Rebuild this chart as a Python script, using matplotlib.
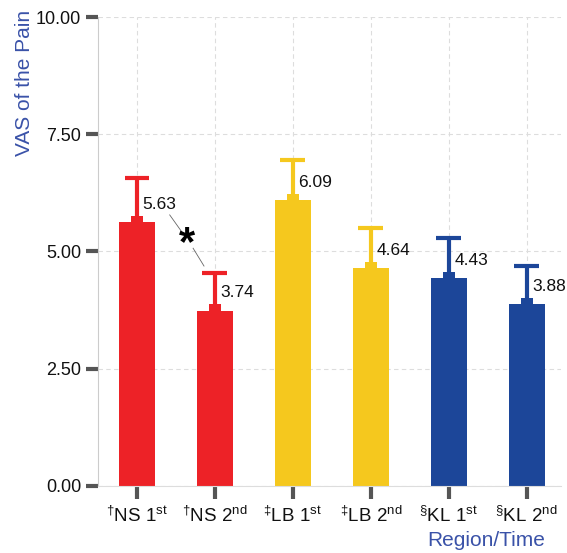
import numpy as np
import matplotlib
matplotlib.use("Agg")
import matplotlib.pyplot as plt

plt.rcParams['font.family'] = ['Liberation Sans', 'DejaVu Sans']
plt.rcParams['mathtext.fontset'] = 'custom'
plt.rcParams['mathtext.rm'] = 'Liberation Sans'
plt.rcParams['mathtext.it'] = 'Liberation Sans'

labels = [r"$^{\dagger}$NS 1$^{\rm st}$", r"$^{\dagger}$NS 2$^{\rm nd}$",
          r"$^{\ddagger}$LB 1$^{\rm st}$", r"$^{\ddagger}$LB 2$^{\rm nd}$",
          r"$^{\S}$KL 1$^{\rm st}$", r"$^{\S}$KL 2$^{\rm nd}$"]
means = [5.63, 3.74, 6.09, 4.64, 4.43, 3.88]
upper_err = [0.94, 0.80, 0.86, 0.86, 0.86, 0.81]
colours = ["#ED2227", "#ED2227", "#F5C81E", "#F5C81E", "#1C4699", "#1C4699"]

TXT_BLUE = "#3A52A8"

fig = plt.figure(figsize=(5.67, 5.53), dpi=100)
ax = fig.add_axes([98/567, 1 - 486/553, 463/567, 469/553])

x = np.arange(len(means))
tops = np.array(means) + np.array(upper_err)

ax.set_axisbelow(True)
ax.grid(True, color="#dddddd", linestyle=(0, (4, 3)), linewidth=0.8)

ax.bar(x, means, width=0.46, color=colours, zorder=2)
# little notch on top of each bar
ax.bar(x, [0.13] * len(x), bottom=means, width=0.15, color=colours, zorder=2)
# upper error bars only
ax.vlines(x, means, tops, colors=colours, linewidth=3, zorder=3)
ax.hlines(tops, x - 0.16, x + 0.16, colors=colours, linewidth=3, zorder=3)
for i in range(len(x)):
    ax.text(x[i] + 0.07, means[i] + 0.38, f"{means[i]:.2f}", fontsize=12.5,
            ha="left", va="center", color="#111111", zorder=4)

# significance mark between NS 1st and NS 2nd
ax.plot([0.42, 0.57], [5.78, 5.43], color="#666666", lw=0.6, zorder=4)
ax.plot([0.72, 0.86], [5.07, 4.69], color="#666666", lw=0.6, zorder=4)
ax.text(0.645, 5.15, "*", fontsize=30, fontweight="bold", ha="center", va="center", zorder=4)

ax.set_xlim(-0.5, 5.44)
ax.set_ylim(0, 10)
ax.set_yticks([0, 2.5, 5, 7.5, 10])
ax.set_yticklabels(["0.00", "2.50", "5.00", "7.50", "10.00"])
ax.set_xticks(x)
ax.set_xticklabels(labels)
ax.tick_params(axis="both", length=9, width=3, color="#555555", labelsize=13,
               labelcolor="#111111", pad=3)
ax.tick_params(axis="x", labelsize=13.5, pad=5)

for s in ["top", "right"]:
    ax.spines[s].set_visible(False)
ax.spines["left"].set_color("#cccccc")
ax.spines["bottom"].set_color("#dddddd")

fig.text(25/567, 1 - 10/553, "VAS of the Pain", rotation=90, ha="center", va="top",
         fontsize=15, color=TXT_BLUE)
fig.text(545/567, 1 - 541/553, "Region/Time", ha="right", va="center",
         fontsize=15, color=TXT_BLUE)

fig.savefig("out.png", dpi=100)
